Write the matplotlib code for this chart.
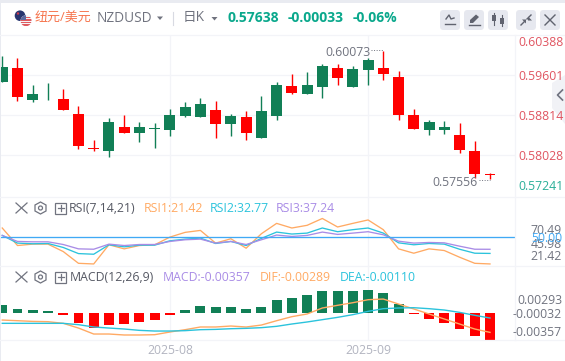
"""NZDUSD daily candles with RSI and MACD panels."""
import matplotlib
matplotlib.use("Agg")
import matplotlib.pyplot as plt
from matplotlib.patches import Circle, FancyBboxPatch, Polygon, Rectangle

plt.rcParams["font.family"] = ["Open Sans", "Noto Sans CJK SC", "DejaVu Sans"]

# ── Candles ──────────────────────────────────────────────────────
OPEN = [.59469, .59744, .59116, .59204, .59135, .58840, .58172, .58113, .58585, .58467, .58546,
        .58526, .58801, .58782, .58919, .58644, .58782, .58369, .58801, .59391, .59233, .59371,
        .59744, .59371, .59705, .59744, .59568, .58821, .58526, .58526, .58428, .58113, .57671]
HIGH = [.59980, .59941, .59410, .59450, .59332, .58998, .58330, .58762, .58821, .58683, .58664,
        .58939, .59070, .59155, .59096, .58840, .58899, .59194, .59469, .59626, .59666, .59823,
        .59823, .59784, .59941, .60073, .59685, .58939, .58723, .58703, .58664, .58310, .57681]
LOW = [.59469, .59096, .59076, .59116, .58919, .58153, .58113, .57995, .58467, .58290, .58172,
       .58408, .58782, .58782, .58369, .58408, .58330, .58369, .58723, .59233, .59233, .59155,
       .59410, .59371, .59410, .59509, .58723, .58546, .58428, .58447, .58074, .57583, .57556]
CLOSE = [.59764, .59175, .59233, .59220, .58919, .58212, .58159, .58683, .58467, .58585, .58565,
         .58821, .58978, .59037, .58644, .58801, .58467, .58899, .59410, .59253, .59410, .59784,
         .59548, .59725, .59902, .59626, .58821, .58546, .58683, .58585, .58133, .57661, .57638]

# ── RSI ──────────────────────────────────────────────────────────
RSI1 = [60.2, 41.3, 42.8, 42.8, 34.8, 22.1, 21.4, 42.1, 37.7, 41.3, 42.1, 50.4, 55.5, 57.6, 43.9, 48.6, 38.4,
        54.0, 65.2, 60.2, 63.1, 70.49, 61.3, 65.2, 68.9, 58.4, 37.7, 33.0, 37.7, 35.9, 28.7, 22.1, 21.42]
RSI2 = [52.2, 43.9, 43.2, 43.5, 39.2, 32.6, 31.9, 42.1, 39.9, 41.7, 41.7, 46.4, 48.2, 49.3, 43.5, 45.7, 41.3,
        49.0, 55.8, 53.7, 54.7, 60.2, 56.2, 58.4, 60.2, 54.7, 44.2, 42.1, 43.5, 42.8, 37.3, 33.0, 32.77]
RSI3 = [52.2, 45.7, 45.3, 45.3, 42.4, 37.7, 37.3, 42.8, 41.3, 42.4, 42.4, 45.7, 47.5, 48.2, 43.9, 45.7, 42.4,
        47.5, 52.6, 51.1, 52.2, 55.8, 53.3, 54.7, 56.2, 52.9, 46.0, 43.9, 44.6, 44.2, 40.6, 37.3, 37.24]
RSI_MID = 50

# ── MACD ─────────────────────────────────────────────────────────
HIST = [.00112, .00058, .00045, .00031, -.00022, -.00129, -.00196, -.00156, -.00143, -.00116, -.00089,
        -.00022, .00045, .00098, .00085, .00085, .00058, .00085, .00178, .00205, .00245, .00299,
        .00299, .00299, .00312, .00272, .00125, -.00009, -.00076, -.00129, -.00210, -.00303, -.00357]
DIF = [-.00094, -.00103, -.00112, -.00116, -.00138, -.00201, -.00281, -.00281, -.00294, -.00294, -.00290,
       -.00254, -.00223, -.00187, -.00187, -.00174, -.00187, -.00161, -.00103, -.00049, -.00013, .00067,
       .00103, .00138, .00178, .00187, .00120, .00054, -.00013, -.00080, -.00147, -.00214, -.00259]
DEA = [-.00138, -.00138, -.00138, -.00138, -.00138, -.00156, -.00187, -.00201, -.00214, -.00232, -.00241,
       -.00241, -.00236, -.00223, -.00219, -.00210, -.00205, -.00196, -.00178, -.00147, -.00120, -.00089,
       -.00058, -.00022, .00022, .00058, .00067, .00071, .00058, .00040, .00009, -.00031, -.00067]

PRICE_GRID = [0.59601, 0.58814, 0.58028]
DATE_TICKS = [11, 24]
DATE_LABELS = ["2025-08", "2025-09"]

# ── Colours ──────────────────────────────────────────────────────
RED = "#ff0000"
GREEN = "#117f56"
GRID = "#f3f4f8"
GREY = "#70737f"
ORANGE = "#ffaa64"
CYAN = "#2bc3dc"
PURPLE = "#a98ce6"
BLUE = "#40a9f5"
LABEL_RED = "#e05561"
LABEL_GREEN = "#2aae98"
HEAD_GREEN = "#0aa88c"
BTN = "#e6e8ef"
ICON = "#60636f"

W, H = 565, 361
XLIM = (-0.148, 33.64)
LABEL_SIZE = 8.85


def panel(fig, top, bottom):
    ax = fig.add_axes([0, 1 - bottom / H, 515 / W, (bottom - top) / H])
    ax.set_xlim(*XLIM)
    ax.patch.set_alpha(0)
    for s in ax.spines.values():
        s.set_visible(False)
    ax.tick_params(length=0, labelleft=False, labelbottom=False)
    ax.set_yticks([])
    ax.set_xticks(DATE_TICKS)
    ax.grid(axis="x", color=GRID, lw=0.9)
    ax.set_axisbelow(True)
    return ax


def txt(ax, x, y, s, color=GREY, size=LABEL_SIZE, **kw):
    kw.setdefault("va", "center")
    ax.text(x, y, s, color=color, fontsize=size, **kw)


fig = plt.figure(figsize=(W / 100, H / 100), dpi=100, facecolor="white")

# ── Price panel ──────────────────────────────────────────────────
ax = panel(fig, 35, 196.5)
ax.set_ylim(0.57219, 0.60393)
ax.set_yticks(PRICE_GRID)
ax.grid(axis="y", color=GRID, lw=0.9)
for i, (o, h, l, c) in enumerate(zip(OPEN, HIGH, LOW, CLOSE)):
    col = GREEN if c >= o else RED
    ax.vlines(i, l, h, color=col, lw=1.0)
    ax.bar(i, abs(c - o), bottom=min(o, c), width=0.72, color=col, lw=0)

# ── RSI panel ────────────────────────────────────────────────────
ax_rsi = panel(fig, 196.5, 266)
ax_rsi.set_ylim(19.2, 94.2)
xs = list(range(len(RSI1)))
ax_rsi.plot(xs, RSI1, color=ORANGE, lw=0.95)
ax_rsi.plot(xs, RSI2, color=CYAN, lw=0.95)
ax_rsi.plot(xs, RSI3, color=PURPLE, lw=0.95)
ax_rsi.axhline(RSI_MID, color=BLUE, lw=0.95)

# ── MACD panel ───────────────────────────────────────────────────
ax_macd = panel(fig, 266, 340)
ax_macd.set_ylim(-0.00361, 0.00629)
ax_macd.bar(xs, HIST, width=0.65, lw=0, color=[GREEN if v >= 0 else RED for v in HIST])
ax_macd.plot(xs, DIF, color=ORANGE, lw=1.0)
ax_macd.plot(xs, DEA, color=CYAN, lw=1.0)
ax_macd.tick_params(labelbottom=True, pad=3, labelsize=LABEL_SIZE, labelcolor="#b2b4c0")
ax_macd.set_xticklabels(DATE_LABELS)

# ── Overlay: frame, header, labels (pixel coordinates) ───────────
ov = fig.add_axes([0, 0, 1, 1])
ov.set_xlim(0, W)
ov.set_ylim(H, 0)
ov.axis("off")
ov.patch.set_alpha(0)

ov.add_patch(Rectangle((0, 0), W, 3, color="#e9ebf1", lw=0))
ov.add_patch(Rectangle((0, 3), 1.2, H, color="#e9ebf1", lw=0))
for y in (34.5, 196.5, 266, 340):
    ov.plot([0, W], [y, y], color=GRID, lw=0.9)
ov.plot([515, 515], [34.5, 340], color=GRID, lw=0.9)

# flags
ov.add_patch(Circle((20, 15.7), 5.3, color="#27356f", lw=0))
ov.add_patch(Circle((18, 13.5), 1.2, color="#d0394a", lw=0))
flag = Circle((26, 20.7), 5.5, color="#f4f4f6", lw=0)
ov.add_patch(flag)
for y in (17.5, 20, 22.5, 25):
    bar = Rectangle((20, y - 0.6), 12, 1.2, color="#e05a5f", lw=0)
    ov.add_patch(bar)
    bar.set_clip_path(flag)
corner = Rectangle((20, 15), 5.5, 4.5, color="#5b6aa0", lw=0)
ov.add_patch(corner)
corner.set_clip_path(flag)

# header text
txt(ov, 35, 18, "纽元/美元", color="#f6764f", size=9.4)
txt(ov, 97, 19, "NZDUSD", size=9.8)
ov.add_patch(Polygon([(157, 16.5), (163, 16.5), (160, 20)], color=GREY, lw=0))
ov.plot([173, 173], [12, 25], color="#d8dae2", lw=0.8)
txt(ov, 183, 17.5, "日K", size=9.8)
ov.add_patch(Polygon([(211.5, 17), (217.5, 17), (214.5, 20.5)], color=GREY, lw=0))
txt(ov, 228, 17.5, "0.57638", color=HEAD_GREEN, size=10, weight="bold")
txt(ov, 288, 17.5, "-0.00033", color=HEAD_GREEN, size=10, weight="bold")
txt(ov, 353, 17.5, "-0.06%", color=HEAD_GREEN, size=10, weight="bold")

# toolbar buttons
for bx in (440, 464, 488, 516, 540):
    ov.add_patch(FancyBboxPatch((bx + 3, 13), 14, 14, boxstyle="round,pad=3,rounding_size=3.5",
                                color=BTN, lw=0))
ov.plot([446, 449, 451, 454], [19, 15, 19, 18], color=ICON, lw=1)
ov.plot([445, 455], [24, 24], color=ICON, lw=1)
ov.add_patch(Polygon([(470, 23), (470, 20), (476, 14.5), (479, 17), (473, 23)], color=ICON, lw=0))
ov.plot([469, 480], [24.5, 24.5], color=ICON, lw=1)
ov.plot([494, 494], [13, 25], color=ICON, lw=0.8)
ov.plot([502, 502], [15, 26], color=ICON, lw=0.8)
ov.add_patch(Rectangle((492, 15), 4, 6, color=ICON, lw=0))
ov.add_patch(Rectangle((500, 18), 4, 6, color=ICON, lw=0))
ov.plot([521, 525], [25, 21], color=ICON, lw=1)
ov.plot([527, 531], [19, 15], color=ICON, lw=1)
ov.add_patch(Polygon([(526, 19.5), (526, 23.5), (522, 19.5)], color=ICON, lw=0))
ov.add_patch(Polygon([(528, 20.5), (528, 16.5), (532, 20.5)], color=ICON, lw=0))
ov.plot([545, 555], [15, 25], color=ICON, lw=1)
ov.plot([545, 555], [25, 15], color=ICON, lw=1)

# price labels
for y, s, c in [(43, "0.60388", LABEL_RED), (76, "0.59601", LABEL_RED), (116, "0.58814", LABEL_RED),
                (157, "0.58028", LABEL_RED), (187, "0.57241", LABEL_GREEN)]:
    txt(ov, 518, y, s, color=c)
txt(ov, 325, 52, "0.60073")
ov.plot([371, 383], [50, 50], color=GREY, lw=0.7, ls=":")
txt(ov, 432, 183, "0.57556")
ov.plot([479, 490], [180, 180], color=GREY, lw=0.7, ls=":")

# collapse tab, sits over the price labels
ov.add_patch(Polygon([(565, 75), (552, 83), (552, 108), (565, 124)], color="#eff0f5", alpha=0.85, lw=0))
ov.plot([562.5, 557.5, 562.5], [90, 95, 100], color=GREY, lw=1.2)


# indicator rows
def icons(y):
    ov.plot([16, 27], [y - 5, y + 5], color=GREY, lw=0.9)
    ov.plot([16, 27], [y + 5, y - 5], color=GREY, lw=0.9)
    ov.add_patch(Polygon([(40.5, y - 6), (46, y - 3), (46, y + 3), (40.5, y + 6), (35, y + 3), (35, y - 3)],
                         fill=False, ec=GREY, lw=0.9))
    ov.add_patch(Circle((40.5, y), 2, fill=False, ec=GREY, lw=0.9))
    ov.add_patch(Rectangle((55, y - 5.5), 11, 11, fill=False, ec=GREY, lw=0.9))
    ov.plot([57.5, 63.5], [y, y], color=GREY, lw=0.9)
    ov.plot([60.5, 60.5], [y - 3, y + 3], color=GREY, lw=0.9)


icons(208)
txt(ov, 69, 208.5, "RSI(7,14,21)", color="#555863")
txt(ov, 144, 208.5, "RSI1:21.42", color=ORANGE)
txt(ov, 210, 208.5, "RSI2:32.77", color=CYAN)
txt(ov, 276, 208.5, "RSI3:37.24", color=PURPLE)

icons(277)
txt(ov, 70, 277.5, "MACD(12,26,9)", color="#555863")
txt(ov, 163, 277.5, "MACD:-0.00357", color=PURPLE)
txt(ov, 260, 277.5, "DIF:-0.00289", color=ORANGE)
txt(ov, 340, 277.5, "DEA:-0.00110", color=CYAN)

for y, s, c in [(230, "70.49", GREY), (244, "45.98", GREY), (238.5, "50.00", BLUE), (257, "21.42", GREY)]:
    txt(ov, 562, y, s, color=c, ha="right")
for y, s in [(300, "0.00293"), (315, "-0.00032"), (332, "-0.00357")]:
    txt(ov, 562, y, s, ha="right")

fig.savefig("out.png", dpi=100)
